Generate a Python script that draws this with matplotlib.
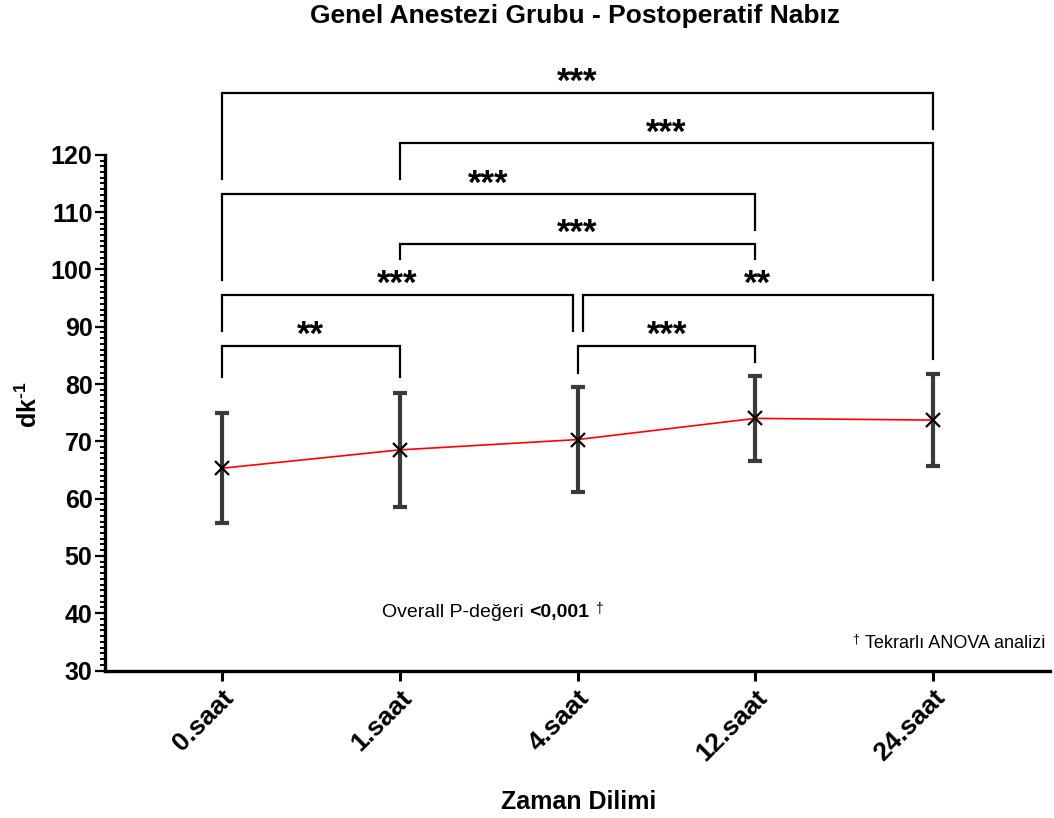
import numpy as np
import matplotlib
matplotlib.use("Agg")
import matplotlib.pyplot as plt
from matplotlib.ticker import MultipleLocator

plt.rcParams['font.family'] = ['Liberation Sans', 'DejaVu Sans']
plt.rcParams['mathtext.fontset'] = 'custom'
plt.rcParams['mathtext.rm'] = 'Liberation Sans'
plt.rcParams['mathtext.bf'] = 'Liberation Sans:bold'

# zaman dilimleri ve nabız değerleri (ortalama ± SD)
zamanlar = ['0.saat', '1.saat', '4.saat', '12.saat', '24.saat']
ortalama = [65.3, 68.5, 70.3, 74.0, 73.7]
sd = [9.6, 9.9, 9.2, 7.4, 8.0]

# karşılaştırmalar: (i, j, etiket)
kars_i = [0, 1, 0, 1, 0, 2, 0, 2]
kars_j = [4, 4, 3, 3, 2, 4, 1, 3]
kars_etiket = ['***', '***', '***', '***', '***', '**', '**', '***']

# köşeli parantez yerleşimi (y çizgi, sol bacak alt, sağ bacak alt, sol/sağ kaydırma)
br_y = [130.8, 122.0, 113.1, 104.4, 95.5, 95.5, 86.7, 86.7]
br_sol = [115.8, 115.8, 98.2, 101.9, 89.3, 89.3, 81.2, 82.0]
br_sag = [124.5, 98.2, 106.9, 101.9, 89.3, 84.4, 81.2, 83.9]
br_dx_sol = [0, 0, 0, 0, 0, 0.029, 0, 0.005]
br_dx_sag = [0, 0, 0, 0, -0.024, 0, 0, 0]

fig = plt.figure(figsize=(10.54, 8.18), dpi=100)
ax = fig.add_axes([105 / 1054, (818 - 670.5) / 818, 945 / 1054, 515.7 / 818])

x = np.arange(len(zamanlar))

ax.errorbar(x, ortalama, yerr=sd, fmt='none', ecolor='#3a3a3a',
            elinewidth=3, capsize=5, capthick=3, zorder=2)
ax.plot(x, ortalama, color='red', lw=1.2, zorder=3)
ax.plot(x, ortalama, ls='none', marker='x', color='black', ms=10, mew=1.6, zorder=4)

# anlamlılık parantezleri
for k in range(len(kars_i)):
    x1 = kars_i[k] + br_dx_sol[k]
    x2 = kars_j[k] + br_dx_sag[k]
    y = br_y[k]
    ax.plot([x1, x1, x2, x2], [br_sol[k], y, y, br_sag[k]],
            color='black', lw=1.6, clip_on=False, solid_joinstyle='miter')
    ax.annotate(kars_etiket[k], xy=((x1 + x2) / 2, y), xytext=(0, 7.5),
                textcoords='offset points', ha='center', va='center',
                fontsize=25, fontweight='bold', annotation_clip=False)

ax.set_xlim(-0.658, 4.658)
ax.set_ylim(30, 120)
ax.yaxis.set_major_locator(MultipleLocator(10))
ax.yaxis.set_minor_locator(MultipleLocator(1))
ax.set_xticks(x)
ax.set_xticklabels(zamanlar, rotation=45, ha='right', va='top',
                   rotation_mode='anchor', fontsize=19, fontweight='bold')
for lab in ax.get_yticklabels():
    lab.set_fontsize(18)
    lab.set_fontweight('bold')

ax.spines['top'].set_visible(False)
ax.spines['right'].set_visible(False)
ax.spines['left'].set_linewidth(2.4)
ax.spines['bottom'].set_linewidth(2.4)
ax.tick_params(axis='y', which='major', length=7, width=1.6, pad=2)
ax.tick_params(axis='y', which='minor', length=3.8, width=1.4)
ax.tick_params(axis='x', which='major', length=7, width=2.2, pad=4)

ax.set_ylabel('dk$^{\\mathbf{\u2010}\\mathbf{1}}$', fontsize=18, fontweight='bold')
ax.yaxis.set_label_coords(-0.067, 0.515)
ax.set_xlabel('Zaman Dilimi', fontsize=18, fontweight='bold')
ax.xaxis.set_label_coords(0.5016, -0.232)

fig.text(0.546, 1 - 16 / 818, 'Genel Anestezi Grubu - Postoperatif Nabız',
         ha='center', va='center', fontsize=19, fontweight='bold')

# genel p-değeri
t1 = ax.text(0.293, 0.1134, 'Overall P-değeri', transform=ax.transAxes,
             va='center', ha='left', fontsize=14)
t2 = ax.annotate('<0,001', xy=(1, 0), xycoords=t1, xytext=(4, 0),
                 textcoords='offset points', va='bottom', ha='left',
                 fontsize=14, fontweight='bold')
ax.annotate('†', xy=(1, 1), xycoords=t2, xytext=(4, 1),
            textcoords='offset points', va='top', ha='left', fontsize=10)

t4 = ax.text(0.995, 0.053, 'Tekrarlı ANOVA analizi', transform=ax.transAxes,
             va='center', ha='right', fontsize=13)
ax.annotate('†', xy=(0, 1), xycoords=t4, xytext=(-4, 1),
            textcoords='offset points', va='top', ha='right', fontsize=9)

fig.savefig('out.png', dpi=100)
